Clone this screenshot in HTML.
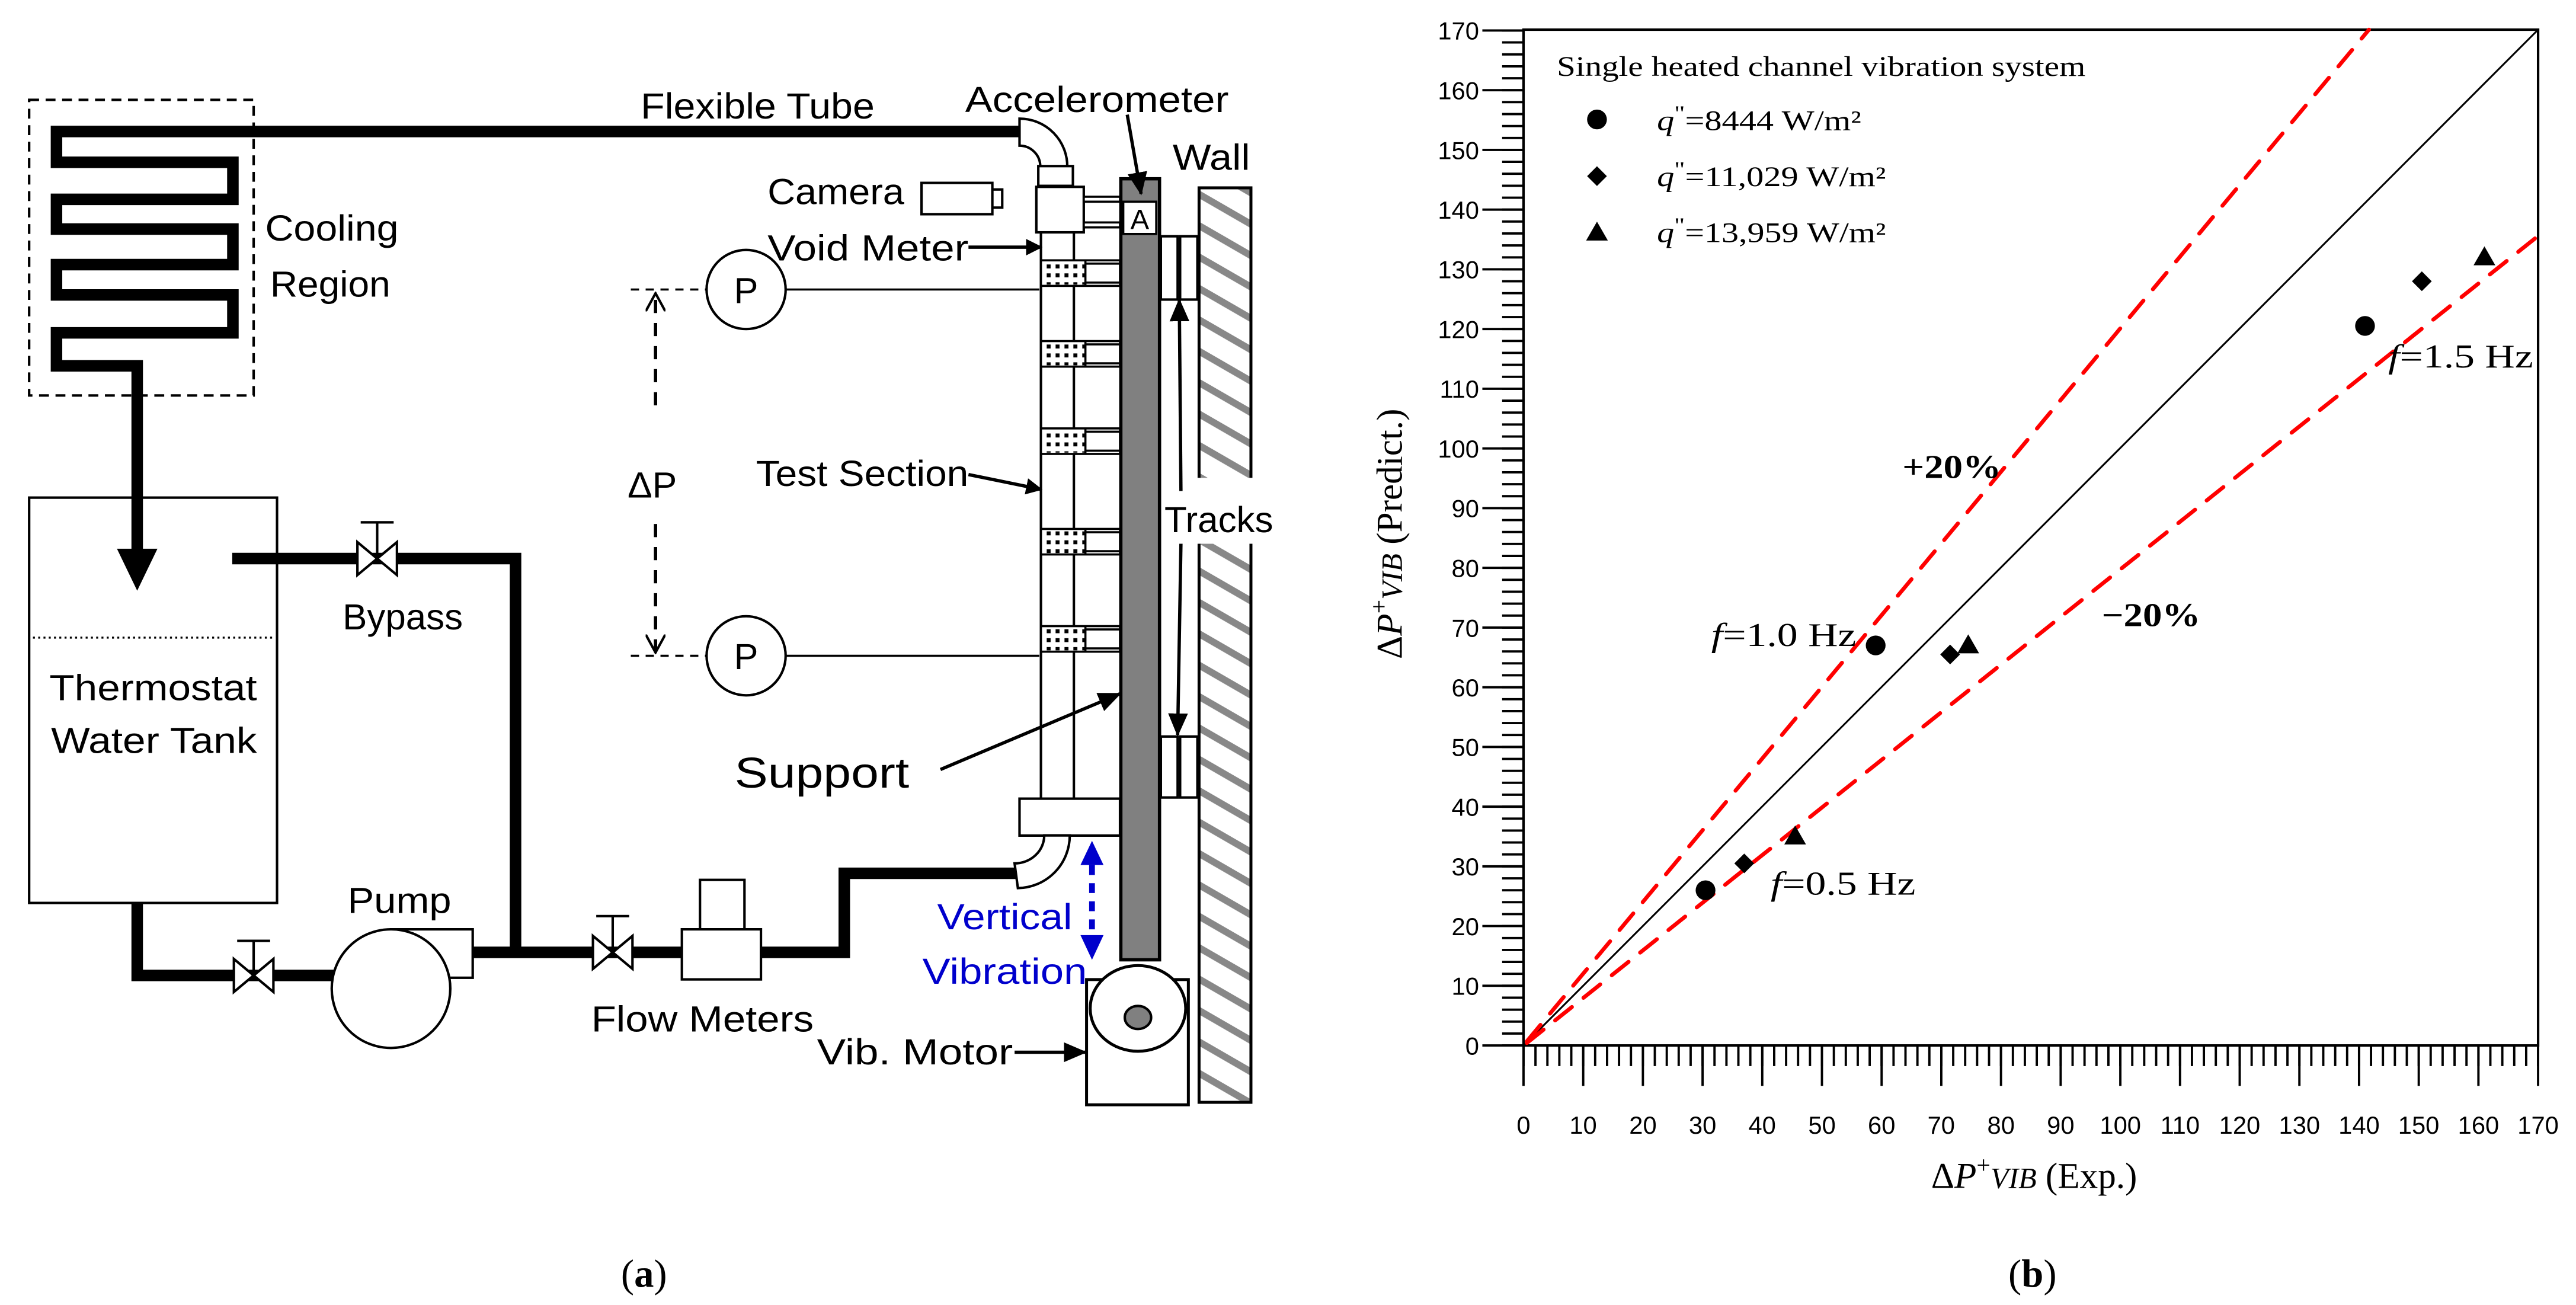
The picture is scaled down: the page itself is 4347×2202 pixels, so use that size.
<!DOCTYPE html>
<html><head><meta charset="utf-8"><style>
html,body{margin:0;padding:0;background:#fff}
svg{display:block}
.s{font-family:"Liberation Sans",sans-serif;font-size:22px}
.t{font-family:"Liberation Serif",serif}
</style></head><body>
<svg width="4347" height="2202" viewBox="0 0 1564 792" preserveAspectRatio="none" xmlns="http://www.w3.org/2000/svg">
<defs>
<pattern id="hatch" patternUnits="userSpaceOnUse" width="10" height="16.5" patternTransform="rotate(30)">
<rect x="0" y="0" width="10" height="4.2" fill="#888"/></pattern>
<pattern id="dots" patternUnits="userSpaceOnUse" width="5.4" height="5.4" x="634" y="159">
<rect x="1.5" y="1.5" width="2.4" height="2.4" fill="#000"/></pattern>
<marker id="ar" markerWidth="10" markerHeight="10" refX="9" refY="5" orient="auto" markerUnits="userSpaceOnUse"><path d="M0,0 L10,5 L0,10 Z" fill="#000"/></marker>
<marker id="arb" markerWidth="14" markerHeight="12" refX="13" refY="6" orient="auto" markerUnits="userSpaceOnUse"><path d="M0,0 L14,6 L0,12 Z" fill="#000"/></marker>
<marker id="ch" markerWidth="12" markerHeight="12" refX="11" refY="6" orient="auto" markerUnits="userSpaceOnUse"><path d="M0,0 L11,6 L0,12" fill="none" stroke="#000" stroke-width="1.5"/></marker>
</defs>

<!-- ================= LEFT DIAGRAM ================= -->
<rect x="17.7" y="60.6" width="136.3" height="179.4" fill="none" stroke="#000" stroke-width="1.5" stroke-dasharray="6,4"/>
<!-- tank -->
<rect x="17.7" y="302" width="150.5" height="246" fill="#fff" stroke="#000" stroke-width="1.5"/>
<line x1="20" y1="387" x2="166" y2="387" stroke="#000" stroke-width="1.2" stroke-dasharray="1.2,2"/>
<!-- pipes -->
<path d="M619,79.8 L34.3,79.8 L34.3,98.5 L141.4,98.5 L141.4,121 L34.3,121 L34.3,139 L141.4,139 L141.4,160.6 L34.3,160.6 L34.3,179 L141.4,179 L141.4,202 L34.3,202 L34.3,222 L83.3,222 L83.3,335" fill="none" stroke="#000" stroke-width="7" stroke-linejoin="miter"/>
<polygon points="71,333 95.6,333 83.3,358.5" fill="#000"/>
<!-- bypass -->
<path d="M141,339 L313,339 L313,578" fill="none" stroke="#000" stroke-width="7"/>
<path d="M83.3,548 L83.3,592 L205,592" fill="none" stroke="#000" stroke-width="7"/>
<path d="M287,578 L512.6,578 L512.6,530 L618,530" fill="none" stroke="#000" stroke-width="7"/>
<!-- valves -->
<g stroke="#000" stroke-width="1.5" fill="#fff">
<polygon points="217,329 241,349 241,329 217,349"/><line x1="229" y1="339" x2="229" y2="317"/><line x1="219" y1="317" x2="239" y2="317"/>
<polygon points="142,582 166,602 166,582 142,602"/><line x1="154" y1="592" x2="154" y2="571"/><line x1="144" y1="571" x2="164" y2="571"/>
<polygon points="360,568 384,588 384,568 360,588"/><line x1="372" y1="578" x2="372" y2="556"/><line x1="362" y1="556" x2="382" y2="556"/>
</g>
<!-- pump -->
<rect x="237.4" y="564" width="49.6" height="29.4" fill="#fff" stroke="#000" stroke-width="1.5"/>
<circle cx="237.4" cy="600" r="36" fill="#fff" stroke="#000" stroke-width="1.5"/>
<!-- flow meter -->
<rect x="425" y="534" width="27" height="30" fill="#fff" stroke="#000" stroke-width="1.5"/>
<rect x="414" y="564" width="48" height="30.4" fill="#fff" stroke="#000" stroke-width="1.5"/>
<!-- top elbow -->
<path d="M619,72 A29,29 0 0 1 648,101 L631.6,101 A12.6,12.6 0 0 0 619,88.4 Z" fill="#fff" stroke="#000" stroke-width="1.5"/>
<rect x="630.4" y="100.8" width="21" height="12" fill="#fff" stroke="#000" stroke-width="1.5"/>
<rect x="629.2" y="113.4" width="28.8" height="27.6" fill="#fff" stroke="#000" stroke-width="1.5"/>
<rect x="658" y="119.4" width="22" height="3" fill="#fff" stroke="#000" stroke-width="1.3"/>
<rect x="658" y="135" width="22" height="3" fill="#fff" stroke="#000" stroke-width="1.3"/>
<!-- camera -->
<rect x="559.5" y="111" width="43" height="19" fill="#fff" stroke="#000" stroke-width="1.5"/>
<rect x="602.5" y="115" width="6" height="11" fill="#fff" stroke="#000" stroke-width="1.5"/>
<!-- test section -->
<line x1="632" y1="141" x2="632" y2="485" stroke="#000" stroke-width="1.5"/>
<line x1="652" y1="141" x2="652" y2="485" stroke="#000" stroke-width="1.5"/>
<g stroke="#000" stroke-width="1.3">
<rect x="632" y="158" width="48" height="15.5" fill="#fff"/><rect x="633" y="158.7" width="26" height="14" fill="url(#dots)" stroke="none"/><line x1="659" y1="158" x2="659" y2="173.5"/><line x1="659" y1="160" x2="680" y2="160"/><line x1="659" y1="171.5" x2="680" y2="171.5"/>
<rect x="632" y="207" width="48" height="15.5" fill="#fff"/><rect x="633" y="207.7" width="26" height="14" fill="url(#dots)" stroke="none"/><line x1="659" y1="207" x2="659" y2="222.5"/><line x1="659" y1="209" x2="680" y2="209"/><line x1="659" y1="220.5" x2="680" y2="220.5"/>
<rect x="632" y="260" width="48" height="15.5" fill="#fff"/><rect x="633" y="260.7" width="26" height="14" fill="url(#dots)" stroke="none"/><line x1="659" y1="260" x2="659" y2="275.5"/><line x1="659" y1="262" x2="680" y2="262"/><line x1="659" y1="273.5" x2="680" y2="273.5"/>
<rect x="632" y="321" width="48" height="15.5" fill="#fff"/><rect x="633" y="321.7" width="26" height="14" fill="url(#dots)" stroke="none"/><line x1="659" y1="321" x2="659" y2="336.5"/><line x1="659" y1="323" x2="680" y2="323"/><line x1="659" y1="334.5" x2="680" y2="334.5"/>
<rect x="632" y="380" width="48" height="15.5" fill="#fff"/><rect x="633" y="380.7" width="26" height="14" fill="url(#dots)" stroke="none"/><line x1="659" y1="380" x2="659" y2="395.5"/><line x1="659" y1="382" x2="680" y2="382"/><line x1="659" y1="393.5" x2="680" y2="393.5"/>
</g>
<rect x="619" y="484.7" width="61" height="22.4" fill="#fff" stroke="#000" stroke-width="1.5"/>
<path d="M634,507 A18,17 0 0 1 616,524 L618,539 A32,32 0 0 0 649.5,507 Z" fill="#fff" stroke="#000" stroke-width="1.5"/>
<!-- gray support bar -->
<rect x="680.5" y="108.5" width="23.5" height="474" fill="#808080" stroke="#000" stroke-width="2"/>
<rect x="682" y="122.4" width="20" height="19.6" fill="#fff" stroke="#000" stroke-width="1.3"/>
<text x="692" y="139" text-anchor="middle" class="s" style="font-size:17px">A</text>
<!-- tracks -->
<g fill="#fff" stroke="#000" stroke-width="1.5">
<rect x="704.8" y="143.4" width="10.2" height="38.4"/><rect x="716.5" y="143.4" width="10.5" height="38.4"/>
<rect x="704.8" y="447" width="10.2" height="37"/><rect x="716.5" y="447" width="10.5" height="37"/>
</g>
<!-- wall -->
<rect x="728" y="114" width="31.5" height="555" fill="url(#hatch)" stroke="#000" stroke-width="1.8"/>
<rect x="712" y="290" width="52" height="40" fill="#fff"/>
<!-- motor -->
<rect x="659.7" y="594.5" width="61.8" height="76" fill="#fff" stroke="#000" stroke-width="1.8"/>
<ellipse cx="690.9" cy="612" rx="29" ry="26" fill="#fff" stroke="#000" stroke-width="1.8"/>
<ellipse cx="690.9" cy="617.5" rx="8" ry="7" fill="#808080" stroke="#000" stroke-width="1.5"/>
<!-- P gauges -->
<circle cx="453" cy="175.7" r="24" fill="#fff" stroke="#000" stroke-width="1.5"/>
<circle cx="453" cy="398" r="24" fill="#fff" stroke="#000" stroke-width="1.5"/>
<line x1="477" y1="175.7" x2="631" y2="175.7" stroke="#000" stroke-width="1.3"/>
<line x1="477" y1="398" x2="631" y2="398" stroke="#000" stroke-width="1.3"/>
<line x1="383" y1="175.7" x2="429" y2="175.7" stroke="#000" stroke-width="1.3" stroke-dasharray="5,4"/>
<line x1="383" y1="398" x2="429" y2="398" stroke="#000" stroke-width="1.3" stroke-dasharray="5,4"/>
<line x1="398" y1="246" x2="398" y2="178" stroke="#000" stroke-width="2" stroke-dasharray="8,6" marker-end="url(#ch)"/>
<line x1="398" y1="318" x2="398" y2="396" stroke="#000" stroke-width="2" stroke-dasharray="8,6" marker-end="url(#ch)"/>
<!-- arrows -->
<g stroke="#000" stroke-width="2">
<line x1="684.4" y1="69.6" x2="692.8" y2="117.6" marker-end="url(#arb)"/>
<line x1="588" y1="150" x2="632" y2="150" marker-end="url(#ar)"/>
<line x1="588" y1="288" x2="632" y2="297" marker-end="url(#ar)"/>
<line x1="571" y1="467" x2="680" y2="421" marker-end="url(#arb)"/>
<line x1="717" y1="298" x2="716" y2="182" marker-end="url(#arb)"/>
<line x1="717" y1="330" x2="715" y2="446" marker-end="url(#arb)"/>
<line x1="616" y1="638.6" x2="659" y2="638.6" marker-end="url(#arb)"/>
</g>
<line x1="663" y1="525" x2="663" y2="570" stroke="#0000cc" stroke-width="3.5" stroke-dasharray="6,5"/>
<polygon points="663,510.3 656,525 670,525" fill="#0000cc"/>
<polygon points="663,582.5 656,567.5 670,567.5" fill="#0000cc"/>
<!-- left labels -->
<g class="s">
<text x="389" y="72" textLength="142" lengthAdjust="spacingAndGlyphs">Flexible Tube</text>
<text x="586" y="68" textLength="160" lengthAdjust="spacingAndGlyphs">Accelerometer</text>
<text x="712" y="103" textLength="47" lengthAdjust="spacingAndGlyphs">Wall</text>
<text x="466" y="124" textLength="83" lengthAdjust="spacingAndGlyphs">Camera</text>
<text x="466" y="158" textLength="122" lengthAdjust="spacingAndGlyphs">Void Meter</text>
<text x="161" y="146" textLength="81" lengthAdjust="spacingAndGlyphs">Cooling</text>
<text x="164" y="180" textLength="73" lengthAdjust="spacingAndGlyphs">Region</text>
<text x="381" y="302" textLength="30" lengthAdjust="spacingAndGlyphs">ΔP</text>
<text x="459" y="295" textLength="129" lengthAdjust="spacingAndGlyphs">Test Section</text>
<text x="707" y="323" textLength="66" lengthAdjust="spacingAndGlyphs">Tracks</text>
<text x="208" y="382" textLength="73" lengthAdjust="spacingAndGlyphs">Bypass</text>
<text x="30" y="425" textLength="126" lengthAdjust="spacingAndGlyphs">Thermostat</text>
<text x="31" y="457" textLength="125" lengthAdjust="spacingAndGlyphs">Water Tank</text>
<text x="446" y="478" style="font-size:26px" textLength="106" lengthAdjust="spacingAndGlyphs">Support</text>
<text x="211" y="554" textLength="63" lengthAdjust="spacingAndGlyphs">Pump</text>
<text x="359" y="626" textLength="135" lengthAdjust="spacingAndGlyphs">Flow Meters</text>
<text x="569" y="564" fill="#0000cc" textLength="82" lengthAdjust="spacingAndGlyphs">Vertical</text>
<text x="560" y="597" fill="#0000cc" textLength="100" lengthAdjust="spacingAndGlyphs">Vibration</text>
<text x="496" y="646" textLength="119" lengthAdjust="spacingAndGlyphs">Vib. Motor</text>
<text x="453" y="184" text-anchor="middle">P</text>
<text x="453" y="406" text-anchor="middle">P</text>
</g>
<text x="391" y="781" text-anchor="middle" class="t" style="font-size:24px">(<tspan font-weight="bold">a</tspan>)</text>

<!-- ================= RIGHT PLOT ================= -->
<line x1="918.5" y1="635.2" x2="918.5" y2="17" stroke="#000" stroke-width="13" stroke-dasharray="1.4,5.847"/>
<line x1="912.5" y1="635.2" x2="912.5" y2="17" stroke="#000" stroke-width="25" stroke-dasharray="1.4,34.835"/>
<line x1="924.3" y1="640.75" x2="1542" y2="640.75" stroke="#000" stroke-width="12.5" stroke-dasharray="1.4,5.847"/>
<line x1="924.3" y1="646.75" x2="1542" y2="646.75" stroke="#000" stroke-width="24.5" stroke-dasharray="1.4,34.835"/>
<rect x="925" y="18" width="616" height="616.5" fill="none" stroke="#000" stroke-width="1.5"/>
<line x1="925" y1="634.5" x2="1541" y2="18" stroke="#000" stroke-width="1.1"/>
<line x1="927" y1="632" x2="1438.3" y2="18" stroke="#f00" stroke-width="2.4" stroke-dasharray="13,9" stroke-linecap="round"/>
<line x1="927" y1="633" x2="1545" y2="140" stroke="#f00" stroke-width="2.4" stroke-dasharray="13,9" stroke-linecap="round"/>
<g fill="#000">
<circle cx="1035.5" cy="540.3" r="6"/><circle cx="1138.8" cy="391.7" r="6"/><circle cx="1435.9" cy="197.8" r="6"/>
<polygon points="1059,518 1065,524 1059,530 1053,524"/><polygon points="1184,391.2 1190,397.2 1184,403.2 1178,397.2"/><polygon points="1470.4,164.7 1476.4,170.7 1470.4,176.7 1464.4,170.7"/>
<polygon points="1089.9,501 1096.5,512.5 1083.3,512.5"/><polygon points="1195,385 1201.6,396.5 1188.4,396.5"/><polygon points="1508.4,149.5 1515,161 1501.8,161"/>
<circle cx="969.6" cy="72.5" r="6"/><polygon points="969.6,100.9 975.6,106.9 969.6,112.9 963.6,106.9"/><polygon points="969.6,134.5 976.2,146 963,146"/>
</g>
<g class="t" style="font-size:17px">
<text x="945.2" y="46" textLength="321" lengthAdjust="spacingAndGlyphs">Single heated channel vibration system</text>
<text x="1006" y="79" textLength="124" lengthAdjust="spacingAndGlyphs"><tspan font-style="italic">q</tspan><tspan dy="-6" font-size="13">"</tspan><tspan dy="6">=8444 W/m²</tspan></text>
<text x="1006" y="113" textLength="139" lengthAdjust="spacingAndGlyphs"><tspan font-style="italic">q</tspan><tspan dy="-6" font-size="13">"</tspan><tspan dy="6">=11,029 W/m²</tspan></text>
<text x="1006" y="147" textLength="139" lengthAdjust="spacingAndGlyphs"><tspan font-style="italic">q</tspan><tspan dy="-6" font-size="13">"</tspan><tspan dy="6">=13,959 W/m²</tspan></text>
</g>
<g class="t" style="font-size:20px">
<text x="1155" y="290" font-weight="bold" textLength="60" lengthAdjust="spacingAndGlyphs">+20%</text>
<text x="1276" y="380" font-weight="bold" textLength="60" lengthAdjust="spacingAndGlyphs">−20%</text>
<text x="1039" y="392" textLength="88" lengthAdjust="spacingAndGlyphs"><tspan font-style="italic">f</tspan>=1.0 Hz</text>
<text x="1075" y="543" textLength="88" lengthAdjust="spacingAndGlyphs"><tspan font-style="italic">f</tspan>=0.5 Hz</text>
<text x="1450" y="223" textLength="88" lengthAdjust="spacingAndGlyphs"><tspan font-style="italic">f</tspan>=1.5 Hz</text>
</g>
<g class="s" style="font-size:15px" text-anchor="end">
<text x="898" y="640">0</text><text x="898" y="603.8">10</text><text x="898" y="567.5">20</text><text x="898" y="531.3">30</text><text x="898" y="495.1">40</text><text x="898" y="458.8">50</text><text x="898" y="422.6">60</text><text x="898" y="386.4">70</text><text x="898" y="350.1">80</text><text x="898" y="313.9">90</text><text x="898" y="277.7">100</text><text x="898" y="241.4">110</text><text x="898" y="205.2">120</text><text x="898" y="168.9">130</text><text x="898" y="132.7">140</text><text x="898" y="96.5">150</text><text x="898" y="60.2">160</text><text x="898" y="24">170</text>
</g>
<g class="s" style="font-size:15px" text-anchor="middle">
<text x="925" y="688">0</text><text x="961.2" y="688">10</text><text x="997.5" y="688">20</text><text x="1033.7" y="688">30</text><text x="1069.9" y="688">40</text><text x="1106.2" y="688">50</text><text x="1142.4" y="688">60</text><text x="1178.6" y="688">70</text><text x="1214.9" y="688">80</text><text x="1251.1" y="688">90</text><text x="1287.4" y="688">100</text><text x="1323.6" y="688">110</text><text x="1359.8" y="688">120</text><text x="1396.1" y="688">130</text><text x="1432.3" y="688">140</text><text x="1468.5" y="688">150</text><text x="1504.8" y="688">160</text><text x="1541" y="688">170</text>
</g>
<text x="1235" y="721" text-anchor="middle" class="t" style="font-size:22px">Δ<tspan font-style="italic">P</tspan><tspan dy="-9" font-size="15">+</tspan><tspan dy="9" font-style="italic" font-size="18">VIB</tspan> (Exp.)</text>
<text transform="translate(851,324) rotate(-90)" text-anchor="middle" class="t" style="font-size:22px">Δ<tspan font-style="italic">P</tspan><tspan dy="-9" font-size="15">+</tspan><tspan dy="9" font-style="italic" font-size="18">VIB</tspan> (Predict.)</text>
<text x="1234" y="781" text-anchor="middle" class="t" style="font-size:24px">(<tspan font-weight="bold">b</tspan>)</text>
</svg>
</body></html>
